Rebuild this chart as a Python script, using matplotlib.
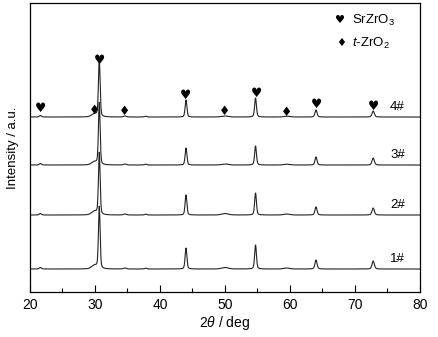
import numpy as np
import matplotlib
matplotlib.use("Agg")
import matplotlib.pyplot as plt

plt.rcParams['font.family'] = ['Liberation Sans', 'DejaVu Sans']
plt.rcParams['mathtext.fontset'] = 'custom'
plt.rcParams['mathtext.rm'] = 'Liberation Sans'
plt.rcParams['mathtext.it'] = 'Liberation Sans:italic'

# reflection positions (2theta, deg) and widths (FWHM, deg)
peak_pos = [21.6, 29.9, 30.66, 34.6, 37.8, 44.0, 50.0, 54.7, 59.5, 64.0, 72.8]
peak_fwhm = [0.4, 1.0, 0.30, 0.5, 0.4, 0.32, 1.2, 0.33, 1.0, 0.38, 0.42]

# peak heights for each sample
h1 = [1.5, 3.5, 62, 1.0, 0.8, 21, 1.5, 24, 1.0, 9, 8]
h2 = [1.5, 3.5, 62, 1.0, 0.8, 20, 1.5, 22, 1.0, 8, 7]
h3 = [1.5, 3.0, 62, 1.0, 0.8, 17, 1.0, 19, 0.8, 8, 7]
h4 = [1.5, 3.0, 57, 1.0, 0.8, 17, 1.0, 19, 0.8, 7, 6]

samples = ["1#", "2#", "3#", "4#"]
offsets = [23, 77, 127, 175]
heights = [h1, h2, h3, h4]

# phase markers above pattern 4#
srzro3_pos = [21.6, 30.7, 44.0, 54.8, 64.1, 72.8]
srzro3_y = [184, 232, 197, 199, 188, 186]
tzro2_pos = [29.9, 34.6, 50.0, 59.5]
tzro2_y = [182, 181, 181, 180]

x = np.arange(20, 80.001, 0.02)


def pattern(h):
    # pseudo-Voigt profiles, mostly Gaussian
    y = np.zeros_like(x)
    for p, w, a in zip(peak_pos, peak_fwhm, h):
        g = (w / 2) ** 2
        lor = g / ((x - p) ** 2 + g)
        gau = np.exp(-4 * np.log(2) * (x - p) ** 2 / w ** 2)
        y += a * (0.35 * lor + 0.65 * gau)
    return y


fig = plt.figure(figsize=(4.39, 3.37), dpi=100)
ax = fig.add_axes([0.0683, 0.1335, 0.8884, 0.8575])

for name, off, h in zip(samples, offsets, heights):
    ax.plot(x, pattern(h) + off, color='#222222', lw=0.8)
    ax.text(75.4, off + 10, name, fontsize=9.5, ha='left', va='center')

for p, yy in zip(srzro3_pos, srzro3_y):
    ax.text(p, yy, u'\u2665', family='DejaVu Sans', fontsize=9,
            ha='center', va='center')
for p, yy in zip(tzro2_pos, tzro2_y):
    ax.text(p, yy, u'\u2666', family='DejaVu Sans', fontsize=9,
            ha='center', va='center')

# legend
ax.text(67.7, 272, u'\u2665', family='DejaVu Sans', fontsize=8,
        ha='center', va='center')
ax.text(69.5, 272, r'SrZrO$_3$', fontsize=9.5, ha='left', va='center')
ax.text(67.8, 249, u'\u2666', family='DejaVu Sans', fontsize=8,
        ha='center', va='center')
ax.text(69.5, 249, r'$t$-ZrO$_2$', fontsize=9.5, ha='left', va='center')

ax.set_xlim(20, 80)
ax.set_ylim(0, 289)
ax.set_xticks(range(20, 81, 10))
ax.set_xticks(range(25, 80, 10), minor=True)
ax.set_yticks([])
ax.tick_params(axis='x', direction='in', length=5, width=0.8, labelsize=10, pad=4)
ax.tick_params(axis='x', which='minor', direction='in', length=3, width=0.8)
for s in ax.spines.values():
    s.set_linewidth(0.9)

ax.set_xlabel(r'2$\theta$ / deg', fontsize=10, labelpad=2)
ax.set_ylabel('Intensity / a.u.', fontsize=9.5, labelpad=8)

fig.savefig('out.png', dpi=100)
